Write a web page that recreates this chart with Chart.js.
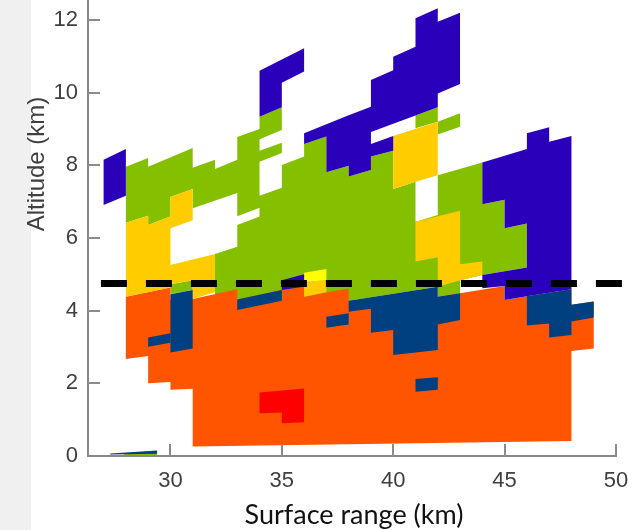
<!DOCTYPE html>
<html>
<head>
<meta charset="utf-8">
<title>Altitude vs surface range</title>
<script src="https://cdn.jsdelivr.net/npm/chart.js@4"></script>
<style>
    html, body { margin: 0; padding: 0; background: #fff; }
    #band { position: absolute; left: 0; top: 0; width: 31px; height: 530px; background: #f0f0f0; }
    #wrap { position: absolute; left: 0; top: 0; width: 632px; height: 530px; }
</style>
</head>
<body>
<div id="band"></div>
<div id="wrap"><canvas id="mainChart" width="632" height="530"></canvas></div>
<script>
const xTicks = [30, 35, 40, 45, 50];
const yTicks = [0, 2, 4, 6, 8, 10, 12];
const xTitle = 'Surface range (km)';
const yTitle = 'Altitude (km)';

// Freezing level line: [range km, altitude km]
const levelLine = [[26.88, 4.75], [50.37, 4.75]];

// Echo regions, each one an outline of [range km, altitude km]
const greenMain = [[28,7.96],[29,8.20],[29,7.96],[31,8.48],[31,7.93],[32,8.15],[32,7.90],[33,8.15],[33,8.78],[34,9.00],[34,9.34],[35,9.60],[35,8.97],[34,8.72],[34,8.40],[35,8.62],[35,8.34],[34,8.10],[34,7.16],[35,7.38],[35,8.01],[36,8.24],[36,8.59],[37,8.79],[37,7.81],[38,7.99],[38,7.69],[39,7.87],[39,8.24],[40,8.40],[40,7.35],[41,7.55],[41,6.45],[42,6.63],[42,7.73],[44,8.08],[44,6.93],[45,7.05],[45,6.27],[46,6.40],[46,5.19],[44,4.98],[43,4.84],[43,4.48],[42,4.38],[42,4.66],[38,4.27],[32,4.29],[32,5.56],[33,5.76],[33,6.36],[34,6.59],[34,6.83],[33,6.60],[33,7.24],[31,6.82],[31,7.35],[30,7.13],[30,6.59],[29,6.36],[29,6.61],[28,6.42]];
const greenLow = [[30,4.73],[31,4.84],[31,4.57],[30,4.46]];
const greenTop = [[41,9.37],[42,9.60],[42,9.20],[41,9.02]];
const greenTail = [[42,9.20],[43,9.43],[43,9.06],[42,8.85]];
const greenSliver = [[27.9,0.03],[29.4,0.03],[29.4,0.10],[27.9,0.05]];

const orangeMain = [[28,4.38],[30,4.64],[30,4.30],[31,4.32],[33,4.59],[33,4.31],[35,4.57],[36,4.66],[36,4.38],[37,4.51],[38,4.60],[38,4.27],[42,4.38],[43,4.48],[45,4.68],[45,4.29],[46,4.40],[48,4.59],[48,4.16],[49,4.25],[49,2.96],[48,2.89],[48,0.41],[31,0.26],[31,1.85],[30,1.82],[30,2.04],[29,2.00],[29,2.75],[28,2.67]];

const yellowLeft = [[28,6.42],[29,6.61],[29,6.36],[30,6.59],[30,7.13],[31,7.35],[31,6.49],[30,6.27],[30,5.26],[32,5.56],[32,4.51],[31,4.32],[31,4.84],[30,4.73],[30,4.64],[28,4.38]];
const yellowMid = [[40,8.81],[42,9.20],[42,7.73],[41,7.55],[40,7.35]];
const yellowRight = [[41,6.45],[43,6.75],[43,5.28],[44,5.35],[44,4.98],[43,4.84],[42,4.66],[42,5.47],[41,5.35]];
const yellowCell = [[36,4.79],[37,4.84],[37,4.51],[36,4.38]];
const brightCell = [[36,5.04],[37,5.15],[37,4.84],[36,4.79]];

const indigoLeft = [[27,8.15],[28,8.45],[28,7.16],[27,6.91]];
const indigoHook = [[34,10.60],[36,11.22],[36,10.58],[35,10.27],[35,9.60],[34,9.34]];
const indigoTop = [[36,8.88],[38,9.38],[39,9.61],[39,10.35],[40,10.62],[40,10.99],[41,11.26],[41,12.05],[42,12.32],[42,11.95],[43,12.20],[43,10.24],[42,9.98],[42,9.60],[41,9.37],[39,8.92],[39,8.59],[40,8.81],[40,8.40],[39,8.24],[39,7.87],[38,7.69],[38,7.99],[37,7.81],[37,8.79],[36,8.59]];
const indigoRight = [[44,8.08],[46,8.45],[46,8.88],[47,9.05],[47,8.65],[48,8.81],[48,4.59],[46,4.40],[45,4.29],[45,4.68],[44,4.62],[44,4.98],[46,5.19],[46,6.40],[45,6.27],[45,7.05],[44,6.93]];
const indigoCell = [[35,4.84],[36,5.00],[36,4.66],[35,4.57]];

const blueA = [[29,3.26],[30,3.38],[30,3.12],[29,3.01]];
const blueB = [[30,4.45],[31,4.57],[31,2.96],[30,2.85]];
const blueC = [[33,4.31],[35,4.57],[35,4.27],[33,4.02]];
const blueD = [[37,3.83],[38,3.93],[38,3.62],[37,3.53]];
const blueE = [[38,4.27],[42,4.66],[42,4.38],[43,4.48],[43,3.74],[42,3.62],[42,2.92],[40,2.78],[40,3.47],[39,3.39],[39,4.05],[38,3.97]];
const blueF = [[41,2.12],[42,2.17],[42,1.82],[41,1.77]];
const blueG = [[46,4.40],[48,4.59],[48,4.16],[49,4.25],[49,3.81],[48,3.70],[48,3.33],[47,3.26],[47,3.65],[46,3.59]];
const blueSliver = [[27.3,0.04],[29.4,0.06],[29.4,0.15],[27.3,0.07]];

const redCell = [[34,1.75],[36,1.86],[36,0.93],[35,0.90],[35,1.20],[34,1.18]];

// bottom to top
const layers = [
    [greenMain, '#85c000'], [greenLow, '#85c000'], [greenTop, '#85c000'], [greenTail, '#85c000'], [greenSliver, '#85c000'],
    [orangeMain, '#ff5500'],
    [yellowLeft, '#ffcc00'], [yellowMid, '#ffcc00'], [yellowRight, '#ffcc00'], [yellowCell, '#ffcc00'], [brightCell, '#ffff00'],
    [indigoLeft, '#2b00bb'], [indigoHook, '#2b00bb'], [indigoTop, '#2b00bb'], [indigoRight, '#2b00bb'], [indigoCell, '#2b00bb'],
    [blueA, '#004080'], [blueB, '#004080'], [blueC, '#004080'], [blueD, '#004080'], [blueE, '#004080'], [blueF, '#004080'], [blueG, '#004080'], [blueSliver, '#004080'],
    [redCell, '#ff0000']
];

function toPoints(list) {
    return list.map(p => ({ x: p[0], y: p[1] }));
}

const datasets = layers.map(([outline, color]) => ({
    data: toPoints(outline),
    showLine: true,
    fill: 'shape',
    backgroundColor: color,
    borderWidth: 0,
    pointRadius: 0,
    tension: 0
}));

datasets.push({
    data: toPoints(levelLine),
    showLine: true,
    fill: false,
    borderColor: '#000000',
    borderWidth: 7,
    borderDash: [26, 19],
    pointRadius: 0,
    clip: false
});

// Chart.js paints the first dataset on top
datasets.reverse();

const axisGray = '#8a8a8a';
const labelGray = '#404040';
const sansFont = "'Liberation Sans', Arial, sans-serif";

// Ticks point inward, and the titles do not sit on the axis middle
const axisExtras = {
    id: 'axisExtras',
    afterDatasetsDraw(chart) {
        const { ctx, scales: { x, y } } = chart;
        ctx.save();
        ctx.strokeStyle = axisGray;
        ctx.lineWidth = 2;
        ctx.beginPath();
        x.ticks.forEach(t => {
            const px = Math.round(x.getPixelForValue(t.value));
            ctx.moveTo(px, y.bottom);
            ctx.lineTo(px, y.bottom - 12);
        });
        y.ticks.forEach(t => {
            const py = Math.round(y.getPixelForValue(t.value));
            ctx.moveTo(x.left, py);
            ctx.lineTo(x.left + 12, py);
        });
        ctx.stroke();

        ctx.textAlign = 'center';
        ctx.textBaseline = 'middle';
        ctx.fillStyle = '#111111';
        ctx.font = "27px Lato";
        ctx.fillText(xTitle, 354, 515);

        ctx.translate(37, 164);
        ctx.rotate(-Math.PI / 2);
        ctx.fillStyle = labelGray;
        ctx.font = "24px " + sansFont;
        ctx.fillText(yTitle, 0, 0);
        ctx.restore();
    }
};

const mainChart = new Chart(document.getElementById('mainChart').getContext('2d'), {
    type: 'scatter',
    data: { datasets: datasets },
    plugins: [axisExtras],
    options: {
        responsive: false,
        animation: false,
        layout: { padding: { top: 0, right: 16, bottom: 0, left: 0 } },
        plugins: { legend: { display: false }, tooltip: { enabled: false } },
        scales: {
            x: {
                type: 'linear',
                min: 26.3,
                max: 50,
                afterBuildTicks: s => { s.ticks = xTicks.map(v => ({ value: v })); },
                afterFit: s => { s.height = 74; s.paddingLeft = 0; s.paddingRight = 0; },
                grid: { drawOnChartArea: false, drawTicks: false },
                border: { color: axisGray, width: 2 },
                ticks: { color: labelGray, font: { family: sansFont, size: 22 }, padding: 12, maxRotation: 0, autoSkip: false }
            },
            y: {
                type: 'linear',
                min: 0,
                max: 12.55,
                afterBuildTicks: s => { s.ticks = yTicks.map(v => ({ value: v })); },
                afterFit: s => { s.width = 88; s.paddingTop = 0; s.paddingBottom = 0; },
                grid: { drawOnChartArea: false, drawTicks: false },
                border: { color: axisGray, width: 2 },
                ticks: { color: labelGray, font: { family: sansFont, size: 22 }, padding: 10, autoSkip: false }
            }
        }
    }
});
</script>
</body>
</html>
